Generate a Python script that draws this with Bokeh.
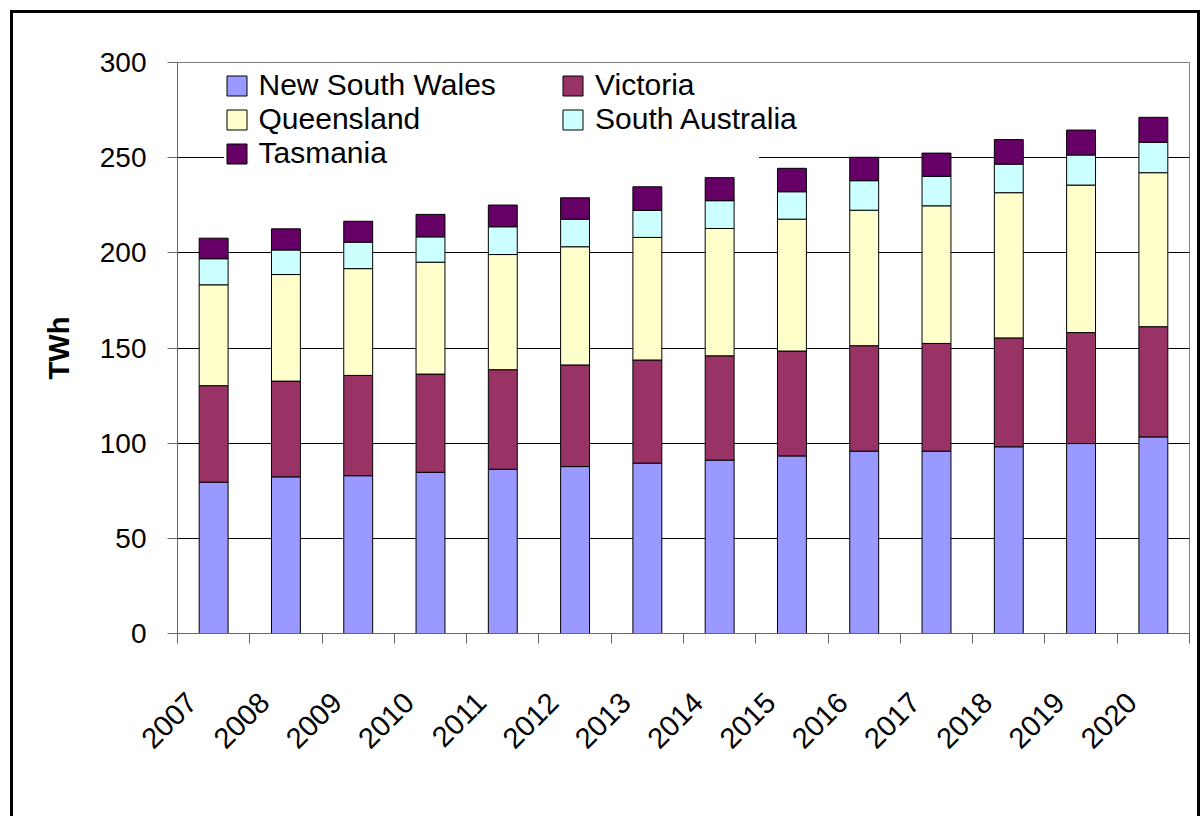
from bokeh.plotting import figure
from bokeh.models import (ColumnDataSource, FixedTicker, Legend, LegendItem, Label, Range1d)
from bokeh.embed import file_html
from bokeh.resources import INLINE

# ---------------- data ----------------
years = ["2007", "2008", "2009", "2010", "2011", "2012", "2013",
         "2014", "2015", "2016", "2017", "2018", "2019", "2020"]
nsw = [79.5, 82.3, 82.9, 84.7, 86.3, 87.7, 89.5, 91.1, 93.3, 95.8, 95.8, 98.1, 99.8, 103.3]
vic = [50.7, 50.3, 52.7, 51.6, 52.3, 53.4, 54.2, 54.8, 55.1, 55.4, 56.6, 57.2, 58.3, 57.9]
qld = [53.0, 56.0, 56.1, 58.8, 60.5, 62.1, 64.4, 66.9, 69.3, 71.2, 72.3, 76.3, 77.5, 80.9]
sa = [13.7, 12.9, 13.9, 13.3, 14.6, 14.5, 14.2, 14.6, 14.4, 15.5, 15.5, 15.0, 15.8, 16.0]
tas = [10.8, 11.1, 11.0, 11.8, 11.4, 11.2, 12.4, 12.1, 12.3, 12.3, 12.2, 12.9, 13.1, 13.1]

series_names = ["New South Wales", "Victoria", "Queensland", "South Australia", "Tasmania"]
series_keys = ["nsw", "vic", "qld", "sa", "tas"]
series_colors = ["#9999FF", "#993366", "#FFFFCC", "#CCFFFF", "#660066"]
y_ticks = [0, 50, 100, 150, 200, 250, 300]
title_text = "Forecast terminal demand, 2007 to 2020"
y_label = "TWh"

FONT = "Liberation Sans"
LABEL_SHIFT = -0.30  # horizontal shift of rotated year labels (category units)

n = len(years)
xpos = [i + 0.5 for i in range(n)]
source = ColumnDataSource(dict(x=xpos, nsw=nsw, vic=vic, qld=qld, sa=sa, tas=tas))

W, H = 1200, 816
p = figure(width=W, height=H,
           x_range=Range1d(0, n), y_range=Range1d(0, 300),
           output_backend="svg", toolbar_location=None,
           min_border_left=177, min_border_right=11,
           min_border_top=62, min_border_bottom=183)
p.background_fill_color = "white"
p.border_fill_color = None
p.outline_line_color = "#808080"
p.outline_line_width = 1
# outer chart-area border (left, top, right; bottom lies below the window)
p.styles = {
    "background": ("linear-gradient(#000,#000) 10px 10px / 3px 100% no-repeat, "
                   "linear-gradient(#000,#000) 10px 10px / 1190px 3px no-repeat, "
                   "linear-gradient(#000,#000) 1197px 10px / 3px 100% no-repeat, #ffffff")
}

renderers = p.vbar_stack(series_keys, x="x", width=0.4, source=source,
                         fill_color=series_colors, line_color="black", line_width=1)

# ---------------- axes ----------------
xa = p.xaxis[0]
xa.ticker = FixedTicker(ticks=[v + LABEL_SHIFT for v in xpos],
                        minor_ticks=list(range(n + 1)))
xa.major_label_overrides = {v + LABEL_SHIFT: y for v, y in zip(xpos, years)}
xa.major_label_orientation = 0.7853981634
xa.major_tick_out = 0
xa.major_tick_in = 0
xa.minor_tick_out = 10
xa.minor_tick_in = 0
xa.minor_tick_line_color = "#666666"
xa.axis_line_color = "#666666"
xa.major_label_standoff = 54
xa.major_label_text_font = FONT
xa.major_label_text_font_size = "29px"
xa.major_label_text_color = "black"

ya = p.yaxis[0]
ya.ticker = FixedTicker(ticks=y_ticks)
ya.major_tick_out = 10
ya.major_tick_in = 0
ya.minor_tick_line_color = None
ya.axis_line_color = "#666666"
ya.major_tick_line_color = "#666666"
ya.major_label_standoff = 21
ya.major_label_text_font = FONT
ya.major_label_text_font_size = "28px"
ya.major_label_text_color = "black"
ya.axis_label = y_label
ya.axis_label_text_font = FONT
ya.axis_label_text_font_size = "29px"
ya.axis_label_text_font_style = "bold"
ya.axis_label_text_color = "black"
ya.axis_label_standoff = 22

p.xgrid.grid_line_color = None
p.ygrid.ticker = FixedTicker(ticks=y_ticks)
p.ygrid.grid_line_color = "black"
p.ygrid.grid_line_width = 1

# ---------------- legend (two columns, row-wise order) ----------------
legend_style = dict(label_text_font=FONT, label_text_font_size="30px",
                    label_text_color="black", label_height=33,
                    glyph_width=25, glyph_height=25, label_standoff=10,
                    spacing=0, padding=2, margin=0, border_line_color=None,
                    background_fill_color="white", background_fill_alpha=1.0)
col1 = [0, 2, 4]
col2 = [1, 3]
legend_a = Legend(items=[LegendItem(label=series_names[i], renderers=[renderers[i]]) for i in col1],
                  orientation="vertical", location=(46.5, 463), label_width=500, **legend_style)
legend_b = Legend(items=[LegendItem(label=series_names[i], renderers=[renderers[i]]) for i in col2],
                  orientation="vertical", location=(383, 497), label_width=200, **legend_style)
p.add_layout(legend_a)
p.add_layout(legend_b)

# ---------------- title (cut off at the top edge, as in the original) ----------------
p.add_layout(Label(x=433, y=628.5, x_units="screen", y_units="screen",
                   text=title_text, text_align="center", text_baseline="alphabetic",
                   text_font=FONT, text_font_size="30px", text_font_style="bold",
                   text_color="black"))

open("out.html", "w").write(file_html(p, INLINE))
